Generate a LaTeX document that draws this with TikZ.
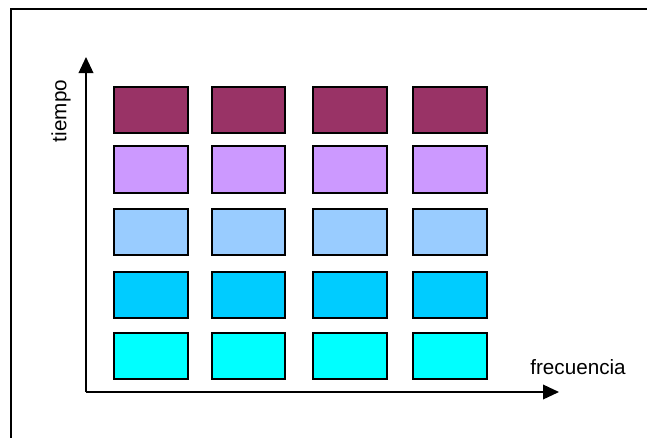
\documentclass[tikz,border=0pt]{standalone}
\usepackage{fontspec}
\setmainfont{Liberation Sans}
\usepackage{xcolor}
\usetikzlibrary{arrows.meta}

\definecolor{maroon}{HTML}{993366}
\definecolor{lavender}{HTML}{CC99FF}
\definecolor{paleblue}{HTML}{99CCFF}
\definecolor{skyblue}{HTML}{00CCFF}
\definecolor{aqua}{HTML}{00FFFF}

\begin{document}
\begin{tikzpicture}[x=0.75pt, y=-0.75pt,
    cell/.style={rectangle, draw, line width=1.5pt, minimum width=55pt, minimum height=35pt, inner sep=0pt},
    axis/.style={line width=1.1pt, -{Triangle[width=11pt, length=12pt]}},
    label/.style={font=\fontsize{15.5}{18}\selectfont}]
    \useasboundingbox (0,0) rectangle (647,437);
    % outer frame (cut off at right and bottom)
    \draw[line width=1.1pt] (11,445) -- (11,9) -- (655,9);

    % cells
    \foreach \y/\col [count=\r] in {110/maroon, 169.5/lavender, 232/paleblue, 295/skyblue, 356/aqua}
        \foreach \x [count=\c] in {151, 248.5, 350, 450}
            \node[cell, fill=\col] (cell-\r-\c) at (\x,\y) {};

    % axes
    \coordinate (origin) at (86,392);
    \coordinate (ytip) at (86,57);
    \coordinate (xtip) at (559,392);
    \draw[axis] (origin) -- (ytip);
    \draw[axis] (origin) -- (xtip);

    \node[label, rotate=90] (tiempo) at (61,111) {tiempo};
    \node[label] (frecuencia) at (578,367) {frecuencia};
\end{tikzpicture}
\end{document}
